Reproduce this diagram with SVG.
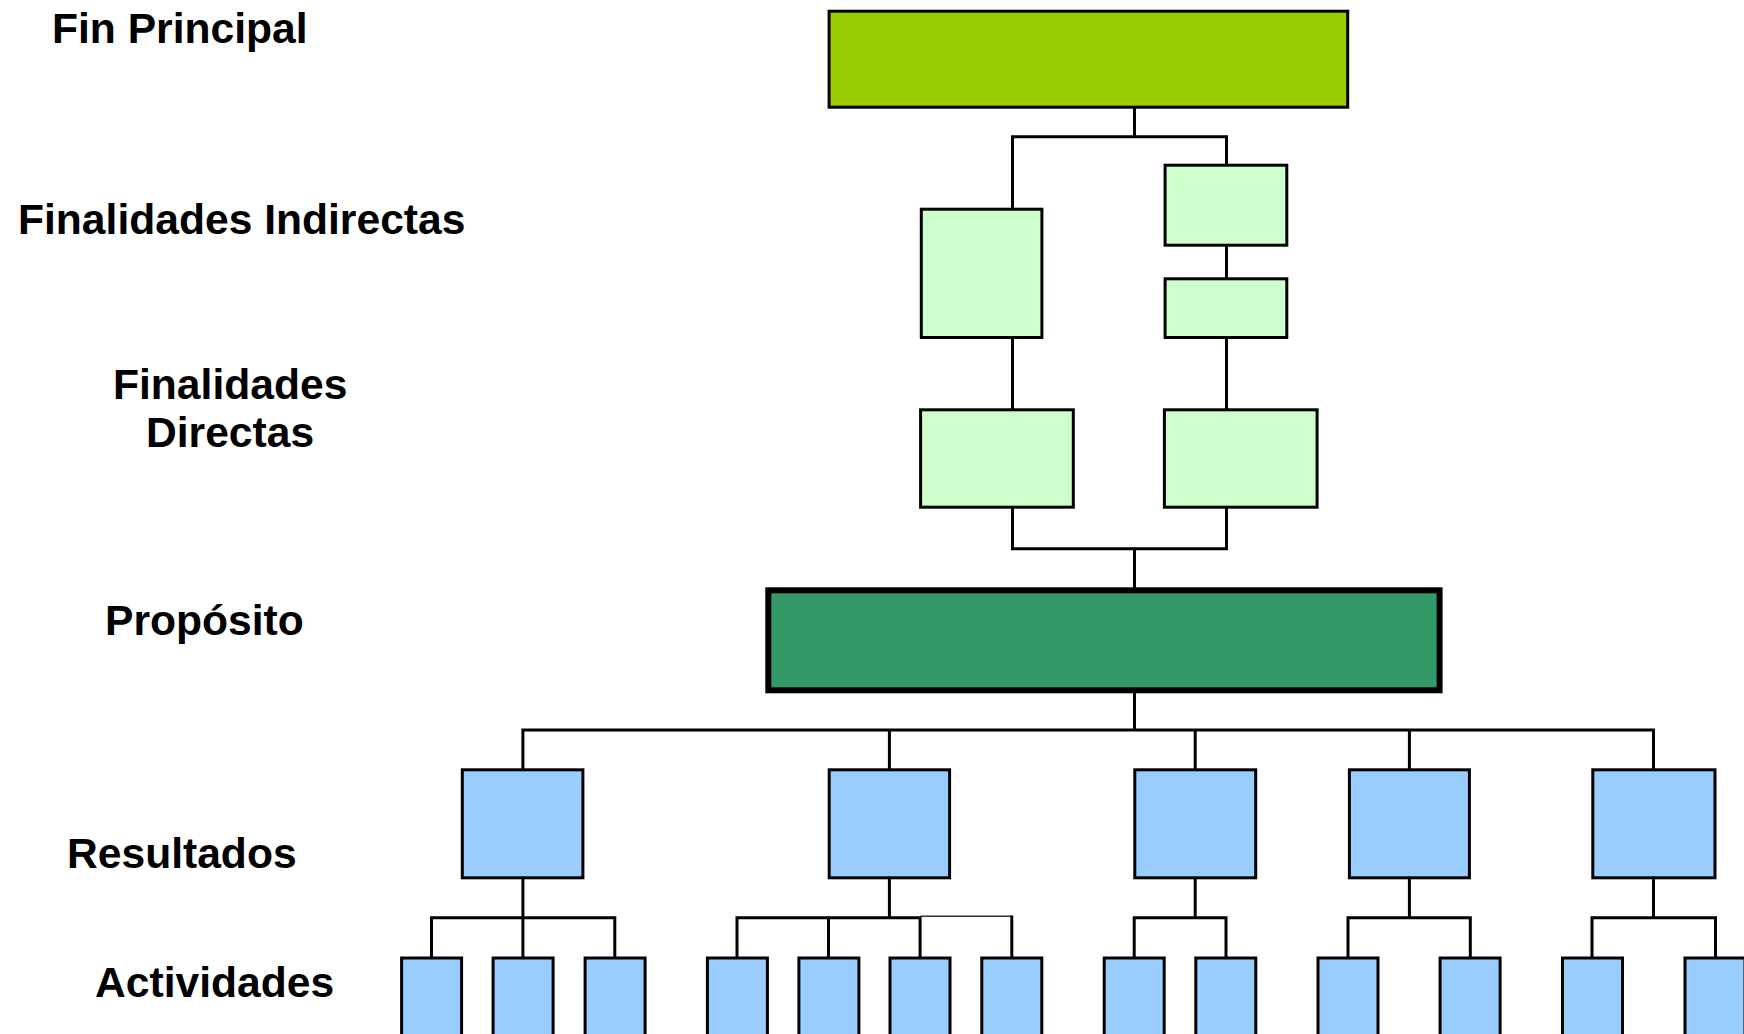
<svg xmlns="http://www.w3.org/2000/svg" width="1744" height="1034" viewBox="0 0 1744 1034">
<style>
  .lbl { font-family: "Liberation Sans", Arial, sans-serif; font-weight: bold; font-size: 42.6px; fill: #000; }
  .box { stroke: #000; stroke-width: 3; }
  .fin { fill: #99CC00; }
  .fi { fill: #CCFFCC; }
  .prop { fill: #339966; stroke: #000; stroke-width: 6; }
  .res { fill: #99CCFF; }
  .conn path { fill: none; stroke: #000; stroke-width: 3; }
  .conn path.thin { stroke: #333; stroke-width: 1.5; }
</style>
<rect width="1744" height="1034" fill="#fff"/>

<g id="labels">
  <text class="lbl" x="52" y="42.5">Fin Principal</text>
  <text class="lbl" x="18" y="233.5">Finalidades Indirectas</text>
  <text class="lbl" x="113" y="399">Finalidades</text>
  <text class="lbl" x="146" y="447">Directas</text>
  <text class="lbl" x="105" y="635">Propósito</text>
  <text class="lbl" x="67" y="867.5">Resultados</text>
  <text class="lbl" x="95" y="997">Actividades</text>
</g>

<g id="connectors" class="conn">
  <path d="M1134.5 108 V136.7"/>
  <path d="M1012.5 208 V136.7 H1226.5 V164"/>
  <path d="M1226.5 246 V278"/>
  <path d="M1012.5 338 V409"/>
  <path d="M1226.5 338 V409"/>
  <path d="M1012.5 508 V548.7 H1226.5 V508"/>
  <path d="M1134.5 548.7 V588"/>
  <path d="M1134.5 692 V730"/>
  <path d="M522.9 769 V730 H1653.5 V769"/>
  <path d="M889.4 730 V769"/>
  <path d="M1195.2 730 V769"/>
  <path d="M1409.4 730 V769"/>
  <path d="M522.9 879 V917.7"/>
  <path d="M431.5 957 V917.7 H614.8 V957"/>
  <path d="M522.9 917.7 V957"/>
  <path d="M889.4 879 V917.7"/>
  <path d="M737 957 V917.7 H920.1 V957"/>
  <path d="M828.5 917.7 V957"/>
  <path class="thin" d="M920.1 916.2 H1011.8"/>
  <path d="M1011.8 915.5 V957"/>
  <path d="M1195.2 879 V917.7"/>
  <path d="M1134.2 957 V917.7 H1226 V957"/>
  <path d="M1409.4 879 V917.7"/>
  <path d="M1348 957 V917.7 H1470.3 V957"/>
  <path d="M1653.5 879 V917.7"/>
  <path d="M1592 957 V917.7 H1715.5 V957"/>
</g>

<g id="fin-principal"><rect class="box fin" x="829.1" y="11.2" width="518.6" height="96"/></g>
<g id="fi-1"><rect class="box fi" x="921.3" y="209.2" width="120.6" height="128.3"/></g>
<g id="fi-2"><rect class="box fi" x="1165.1" y="165.2" width="121.7" height="80"/></g>
<g id="fi-3"><rect class="box fi" x="1165.1" y="278.8" width="121.7" height="58.7"/></g>
<g id="fd-1"><rect class="box fi" x="920.6" y="409.8" width="152.7" height="97.4"/></g>
<g id="fd-2"><rect class="box fi" x="1164.4" y="409.8" width="152.7" height="97.4"/></g>
<g id="proposito"><rect class="prop" x="768.3" y="590.3" width="671.3" height="100"/></g>

<g id="res-1"><rect class="box res" x="462.3" y="769.8" width="120.6" height="108"/></g>
<g id="res-2"><rect class="box res" x="829.2" y="769.8" width="120.4" height="108"/></g>
<g id="res-3"><rect class="box res" x="1134.8" y="769.8" width="120.9" height="108"/></g>
<g id="res-4"><rect class="box res" x="1349.4" y="769.8" width="120" height="108"/></g>
<g id="res-5"><rect class="box res" x="1592.8" y="769.8" width="122.2" height="108"/></g>

<g id="act-1-1"><rect class="box res" x="401.6" y="958" width="60" height="100"/></g>
<g id="act-1-2"><rect class="box res" x="493.1" y="958" width="60" height="100"/></g>
<g id="act-1-3"><rect class="box res" x="585.1" y="958" width="60" height="100"/></g>
<g id="act-2-1"><rect class="box res" x="707.4" y="958" width="60" height="100"/></g>
<g id="act-2-2"><rect class="box res" x="798.9" y="958" width="60" height="100"/></g>
<g id="act-2-3"><rect class="box res" x="890" y="958" width="60" height="100"/></g>
<g id="act-2-4"><rect class="box res" x="981.8" y="958" width="60" height="100"/></g>
<g id="act-3-1"><rect class="box res" x="1104.2" y="958" width="60" height="100"/></g>
<g id="act-3-2"><rect class="box res" x="1195.8" y="958" width="60" height="100"/></g>
<g id="act-4-1"><rect class="box res" x="1318" y="958" width="60" height="100"/></g>
<g id="act-4-2"><rect class="box res" x="1440.1" y="958" width="60" height="100"/></g>
<g id="act-5-1"><rect class="box res" x="1562.5" y="958" width="60" height="100"/></g>
<g id="act-5-2"><rect class="box res" x="1685" y="958" width="60" height="100"/></g>
</svg>
